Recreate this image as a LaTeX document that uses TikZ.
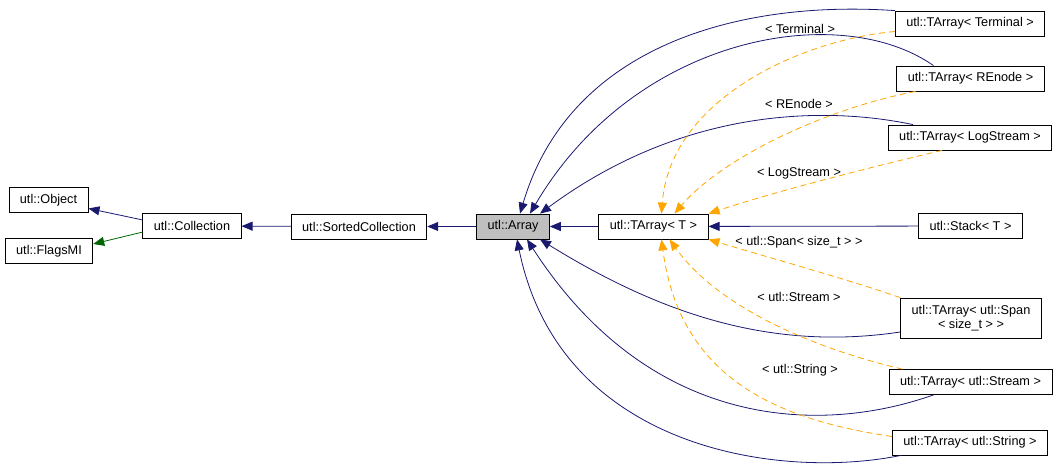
\documentclass[tikz,border=0pt]{standalone}
\usepackage{fontspec}
\setmainfont{Liberation Sans}
\usetikzlibrary{arrows.meta,positioning}
\definecolor{navyedge}{HTML}{191970}
\definecolor{greenedge}{HTML}{006400}
\definecolor{tmpledge}{HTML}{FFA500}
\definecolor{curclass}{HTML}{BFBFBF}

\begin{document}
\begin{tikzpicture}[x=1pt,y=1pt,font=\fontsize{12.7}{14.5}\selectfont]
\tikzstyle{cls} = [
	shape=rectangle,
	draw=black, %border of the class box
	fill=white,
	line width=0.8pt,
	minimum height=25pt,
	inner xsep=11pt,
	inner ysep=2pt
];
\tikzstyle{inherit} = [-{Triangle[length=11pt,width=9pt]}, line width=0.8pt, color=navyedge];
\tikzstyle{tmpl} = [-{Triangle[length=11pt,width=9pt]}, line width=0.8pt, color=tmpledge, dash pattern=on 6pt off 4pt];

\useasboundingbox (0,0) rectangle (1059,-468);

%main row
\node[cls](Object) at (48.5,-200) {utl::Object};
\node[cls](FlagsMI) at (49,-251) {utl::FlagsMI};
\node[cls](Collection) at (192,-226) {utl::Collection};
\node[cls](SortedCollection) at (359,-226.5) {utl::SortedCollection};
\node[cls,fill=curclass](Array) at (513,-226.5) {utl::Array};
\node[cls](TArrayT) at (653.5,-226.5) {utl::TArray< T >};
\node[cls](Stack) at (970.5,-226) {utl::Stack< T >};

%instances on the right
\begin{scope}[shift={(970,0)}]
	\node[cls](TaTerm) at (0,-23.5) {utl::TArray< Terminal >};
	\node[cls](TaREnode) at (0.5,-78.5) {utl::TArray< REnode >};
	\node[cls](TaLog) at (0,-137.5) {utl::TArray< LogStream >};
	\node[cls,align=center,minimum height=40pt](TaSpan) at (1,-318) {utl::TArray< utl::Span\\< size\_t > >};
	\node[cls](TaStream) at (0.5,-382) {utl::TArray< utl::Stream >};
	\node[cls](TaString) at (0,-442.5) {utl::TArray< utl::String >};
\end{scope}

%template labels
\node(LblTerm) at (800,-29) {< Terminal >};
\node(LblREnode) at (799,-104) {< REnode >};
\node(LblLog) at (799,-173) {< LogStream >};
\node(LblSpan) at (799,-242) {< utl::Span< size\_t > >};
\node(LblStream) at (799,-297) {< utl::Stream >};
\node(LblString) at (800,-370) {< utl::String >};

%base classes
\draw[inherit] (Collection.173) -- (Object.-12);
\draw[inherit, color=greenedge] (Collection.187) -- (FlagsMI.9);
\draw[inherit] (SortedCollection) -- (Collection);
\draw[inherit] (Array) -- (SortedCollection);
\draw[inherit] (TArrayT) -- (Array);
\draw[inherit] (Stack) -- (TArrayT);

%instances derive from utl::Array
\draw[inherit] (TaTerm.north west) .. controls (740,0) and (570,-45) .. ([xshift=7]Array.north);
\draw[inherit] ([xshift=-37]TaREnode.north) .. controls (840,0) and (635,-35) .. ([xshift=17]Array.north);
\draw[inherit] ([xshift=-57]TaLog.north) .. controls (820,-105) and (680,-110) .. ([xshift=27]Array.north);
\draw[inherit] ([yshift=-14]TaSpan.west) .. controls (780,-350) and (670,-320) .. ([xshift=27]Array.south);
\draw[inherit] ([xshift=-37]TaStream.south) .. controls (820,-435) and (650,-430) .. ([xshift=14]Array.south);
\draw[inherit] ([xshift=-69]TaString.south) .. controls (780,-480) and (560,-450) .. ([xshift=4]Array.south);

%instances of utl::TArray< T >
\draw[tmpl] ([yshift=-8]TaTerm.west) .. controls (800,-40) and (670,-100) .. ([xshift=8]TArrayT.north);
\draw[tmpl] ([xshift=-55]TaREnode.south) .. controls (820,-110) and (720,-160) .. ([xshift=21]TArrayT.north);
\draw[tmpl] ([xshift=-28]TaLog.south) .. controls (880,-165) and (780,-190) .. (TArrayT.north east);
\draw[tmpl] (TaSpan.north west) .. controls (850,-280) and (760,-255) .. (TArrayT.south east);
\draw[tmpl] ([xshift=-68]TaStream.north) .. controls (820,-350) and (720,-310) .. ([xshift=16]TArrayT.south);
\draw[tmpl] ([yshift=6]TaString.west) .. controls (780,-420) and (680,-380) .. ([xshift=8]TArrayT.south);

\end{tikzpicture}
\end{document}
